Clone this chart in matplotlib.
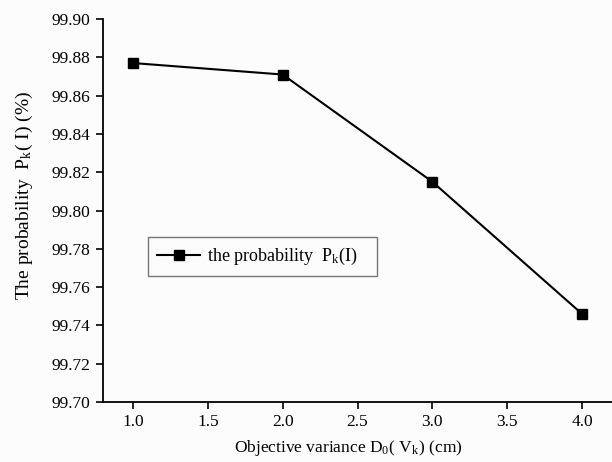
import matplotlib
matplotlib.use("Agg")
import matplotlib.pyplot as plt

x_values = [1.0, 2.0, 3.0, 4.0]
probability = [99.877, 99.871, 99.815, 99.746]
x_ticks = [1.0, 1.5, 2.0, 2.5, 3.0, 3.5, 4.0]
y_ticks = [99.70, 99.72, 99.74, 99.76, 99.78, 99.80, 99.82, 99.84, 99.86, 99.88, 99.90]

plt.rcParams['font.family'] = ['Liberation Serif', 'DejaVu Serif']
plt.rcParams['mathtext.fontset'] = 'stix'

fig = plt.figure(figsize=(6.12, 4.62), dpi=100)
fig.patch.set_facecolor('#fcfcfc')
ax = fig.add_axes([103/612, 60/462, 509/612, 383/462])
ax.set_facecolor('#fcfcfc')

ax.plot(x_values, probability, color='black', linewidth=1.5, marker='s',
        markersize=6.5, label=r'the probability  P$_\mathregular{k}$(I)   ')

ax.set_xlim(0.8, 4.2)
ax.set_ylim(99.70, 99.90)
ax.set_xticks(x_ticks)
ax.set_xticklabels([f"{v:.1f}" for v in x_ticks], fontfamily='Liberation Serif')
ax.set_yticks(y_ticks)
ax.set_yticklabels([f"{v:.2f}" for v in y_ticks], fontfamily='Liberation Serif')

for s in ['top', 'right']:
    ax.spines[s].set_visible(False)
for s in ['left', 'bottom']:
    ax.spines[s].set_linewidth(1.3)

ax.tick_params(direction='out', length=5, width=1.2, labelsize=12.5, pad=4)

ax.set_xlabel(r'Objective variance D$_\mathregular{0}$( V$_\mathregular{k}$) (cm)', fontsize=12.5)
ax.xaxis.set_label_coords(0.482, -0.095)
ax.set_ylabel(r'The probability  P$_\mathregular{k}$( I) (%)', fontsize=14)
ax.yaxis.set_label_coords(-0.134, 0.54)

leg = ax.legend(loc='upper left', bbox_to_anchor=(45/509, (402-237)/383), fontsize=13,
                frameon=True, fancybox=False, edgecolor='#555555', handlelength=2.4,
                borderpad=0.5, handletextpad=0.35, borderaxespad=0)
leg.get_frame().set_linewidth(1.0)
leg.get_frame().set_facecolor('#fcfcfc')

fig.savefig('out.png', dpi=100, facecolor=fig.get_facecolor())
